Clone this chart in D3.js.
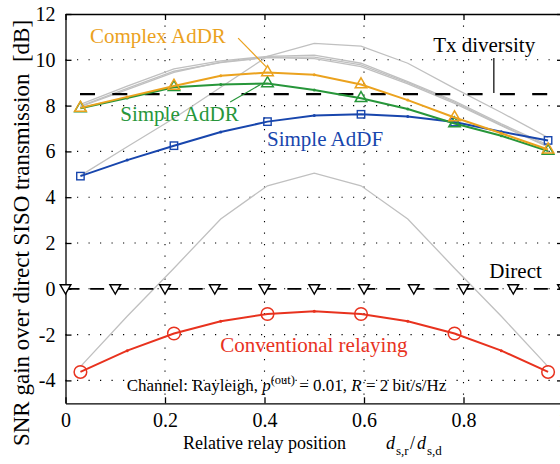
<!DOCTYPE html>
<html>
<head>
<meta charset="utf-8">
<script src="https://cdn.jsdelivr.net/npm/d3@7"></script>
<style>
  body { margin: 0; background: #fff; }
  svg { display: block; }
  svg text { font-family: "Liberation Serif", "DejaVu Serif", serif !important; }
</style>
</head>
<body>
<svg id="chart"></svg>
<script>
// relay position d_sr/d_sd for all curves
const relayPos = [0.03, 0.124, 0.218, 0.312, 0.406, 0.5, 0.594, 0.688, 0.782, 0.876, 0.97];
const markerIdx = [0, 2, 4, 6, 8, 10];

// SNR gain [dB]
const complexAdDR = [7.9, 8.38, 8.86, 9.3, 9.45, 9.35, 8.92, 8.24, 7.48, 6.79, 6.08];
const simpleAdDR = [7.88, 8.33, 8.8, 8.92, 8.97, 8.68, 8.32, 7.85, 7.22, 6.68, 6.02];
const simpleAdDF = [4.92, 5.62, 6.25, 6.85, 7.3, 7.57, 7.62, 7.52, 7.28, 6.86, 6.48];
const conventional = [-3.63, -2.7, -1.95, -1.42, -1.1, -0.98, -1.1, -1.42, -1.95, -2.7, -3.63];

// light gray reference curves
const grayCurves = [
  [4.94, 6.2, 7.45, 8.8, 10.15, 10.72, 10.6, 9.85, 8.75, 7.7, 6.6],
  [8.05, 8.85, 9.6, 9.95, 10.15, 10.2, 9.85, 9.05, 8.2, 7.2, 6.28],
  [7.98, 8.75, 9.5, 9.88, 10.1, 10.05, 9.7, 8.95, 8.1, 7.12, 6.2],
  [7.95, 8.7, 9.45, 9.9, 10.12, 10.12, 9.78, 9.0, 8.15, 7.15, 6.22],
  [-3.4, -1.2, 0.9, 3.05, 4.5, 5.05, 4.5, 3.05, 0.9, -1.2, -3.4]
];

const directPos = [0, 0.1, 0.2, 0.3, 0.4, 0.5, 0.6, 0.7, 0.8, 0.9, 1.0];
const directGain = 0;
const txDiversityGain = 8.5;

const xTicks = [0, 0.2, 0.4, 0.6, 0.8, 1];
const yTicks = [-4, -2, 0, 2, 4, 6, 8, 10, 12];

const orange = "#eba21e", green = "#27963a", blue = "#1846ad", red = "#e8321e", gray = "#c0c0c0";

const width = 560, height = 464;
const svg = d3.select("#chart").attr("width", width).attr("height", height);

const x = d3.scaleLinear().domain([0, 1]).range([65.5, 563]);
const y = d3.scaleLinear().domain([-5, 12]).range([403.3, 14]);

// dotted grid
const grid = svg.append("g").attr("stroke", "#000").attr("stroke-width", 1.1).attr("stroke-dasharray", "1.2,10.3");
grid.selectAll(".gx").data(xTicks.slice(1, -1)).join("line")
  .attr("x1", d => x(d)).attr("x2", d => x(d))
  .attr("y1", y(12)).attr("y2", y(-5));
grid.selectAll(".gy").data(yTicks.slice(0, -1)).join("line")
  .attr("x1", x(0)).attr("x2", x(1))
  .attr("y1", d => y(d)).attr("y2", d => y(d));

// axes
const fmt = d => d3.format("")(d).replace("−", "-");
svg.append("g").attr("transform", `translate(0,${y(-5)})`)
  .call(d3.axisBottom(x).tickValues(xTicks).tickFormat(fmt).tickSize(-6).tickSizeOuter(0).tickPadding(10));
svg.append("g").attr("transform", `translate(${x(0)},0)`)
  .call(d3.axisLeft(y).tickValues(yTicks).tickFormat(fmt).tickSize(-6).tickSizeOuter(0).tickPadding(10));
svg.append("g").attr("transform", `translate(0,${y(12)})`)
  .call(d3.axisTop(x).tickValues(xTicks).tickFormat("").tickSize(-6).tickSizeOuter(0));
svg.append("g").attr("transform", `translate(${x(1)},0)`)
  .call(d3.axisRight(y).tickValues(yTicks).tickFormat("").tickSize(-6).tickSizeOuter(0));
svg.selectAll(".domain, .tick line").attr("stroke", "#000").attr("stroke-width", 1.3);
svg.selectAll("g[font-family]").attr("font-family", null).attr("font-size", null);
svg.selectAll(".tick text").attr("fill", "#000").style("font-size", "20px");

const line = d3.line().x((d, i) => x(relayPos[i])).y(d => y(d));

// gray curves
svg.append("g").selectAll("path").data(grayCurves).join("path")
  .attr("d", line).attr("fill", "none").attr("stroke", gray).attr("stroke-width", 1.3);

// Tx diversity reference
svg.append("line")
  .attr("x1", x(0)).attr("x2", x(1))
  .attr("y1", y(txDiversityGain)).attr("y2", y(txDiversityGain))
  .attr("stroke", "#000").attr("stroke-width", 2.2)
  .attr("stroke-dasharray", "15,17.3").attr("stroke-dashoffset", 17.8);

// Direct reference
svg.append("line")
  .attr("x1", x(0)).attr("x2", x(1))
  .attr("y1", y(directGain)).attr("y2", y(directGain))
  .attr("stroke", "#000").attr("stroke-width", 1.8)
  .attr("stroke-dasharray", "14,10.65").attr("stroke-dashoffset", 0);
svg.append("g").selectAll("path").data(directPos).join("path")
  .attr("d", d3.symbol(d3.symbolTriangle, 50))
  .attr("transform", d => `translate(${x(d)},${y(directGain) - 1}) rotate(180)`)
  .attr("fill", "#fff").attr("stroke", "#000").attr("stroke-width", 1.4);

// coloured curves
const curves = [
  { values: conventional, color: red, marker: "circle" },
  { values: simpleAdDF, color: blue, marker: "square" },
  { values: simpleAdDR, color: green, marker: "triangle" },
  { values: complexAdDR, color: orange, marker: "triangle" }
];
curves.forEach(c => {
  const g = svg.append("g");
  g.append("path").attr("d", line(c.values))
    .attr("fill", "none").attr("stroke", c.color).attr("stroke-width", 2);
  g.selectAll(".dot").data(relayPos.map((p, i) => i).filter(i => i % 2 === 1)).join("circle")
    .attr("cx", i => x(relayPos[i])).attr("cy", i => y(c.values[i])).attr("r", 1.5)
    .attr("fill", c.color);
  const m = g.selectAll(".mk").data(markerIdx);
  if (c.marker === "circle") {
    m.join("circle").attr("cx", i => x(relayPos[i])).attr("cy", i => y(c.values[i])).attr("r", 6.3)
      .attr("fill", "none").attr("stroke", c.color).attr("stroke-width", 1.5);
  } else if (c.marker === "square") {
    m.join("rect").attr("x", i => x(relayPos[i]) - 3.7).attr("y", i => y(c.values[i]) - 3.7)
      .attr("width", 7.4).attr("height", 7.4)
      .attr("fill", "none").attr("stroke", c.color).attr("stroke-width", 1.4);
  } else {
    m.join("path").attr("d", d3.symbol(d3.symbolTriangle, 58))
      .attr("transform", i => `translate(${x(relayPos[i])},${y(c.values[i])})`)
      .attr("fill", "none").attr("stroke", c.color).attr("stroke-width", 1.5);
  }
});

// annotations
function label(text, px, py, color, size) {
  return svg.append("text").attr("x", x(px)).attr("y", y(py))
    .attr("fill", color).style("font-size", size + "px").text(text);
}
function pointer(x1, y1, x2, y2, color) {
  svg.append("line").attr("x1", x(x1)).attr("y1", y(y1)).attr("x2", x(x2)).attr("y2", y(y2))
    .attr("stroke", color).attr("stroke-width", 1.2);
}
label("Complex AdDR", 0.049, 10.73, orange, 21);
pointer(0.347, 10.95, 0.403, 9.7, orange);
label("Simple AdDR", 0.11, 7.33, green, 21);
pointer(0.331, 8.16, 0.392, 8.92, green);
label("Simple AdDF", 0.405, 6.24, blue, 21);
label("Tx diversity", 0.739, 10.35, "#000", 21);
pointer(0.861, 10.08, 0.861, 8.55, "#000");
label("Direct", 0.852, 0.47, "#000", 21);
label("Conventional relaying", 0.311, -2.76, red, 21);

const ch = svg.append("text").attr("x", x(0.123)).attr("y", y(-4.45))
  .attr("fill", "#000").style("font-size", "17px");
ch.append("tspan").text("Channel: Rayleigh, ");
ch.append("tspan").style("font-style", "italic").text("p");
ch.append("tspan").attr("dy", -7).style("font-size", "12.5px").text("(out)");
ch.append("tspan").attr("dy", 7).text(" = 0.01, ");
ch.append("tspan").style("font-style", "italic").text("R");
ch.append("tspan").text(" = 2 bit/s/Hz");

// axis titles
const xl = svg.append("text").attr("y", 449).attr("fill", "#000").style("font-size", "18px");
xl.append("tspan").attr("x", 183).text("Relative relay position");
xl.append("tspan").attr("x", 386).style("font-style", "italic").text("d");
xl.append("tspan").attr("x", 396).attr("dy", 6).style("font-size", "13px").text("s,r");
xl.append("tspan").attr("x", 410).attr("dy", -6).text("/");
xl.append("tspan").attr("x", 417).style("font-style", "italic").text("d");
xl.append("tspan").attr("x", 427).attr("dy", 6).style("font-size", "13px").text("s,d");

svg.append("text")
  .attr("transform", "translate(29,233) rotate(-90)")
  .attr("text-anchor", "middle").attr("fill", "#000").style("font-size", "23px")
  .text("SNR gain over direct SISO transmission\u00a0\u00a0[dB]");
</script>
</body>
</html>
